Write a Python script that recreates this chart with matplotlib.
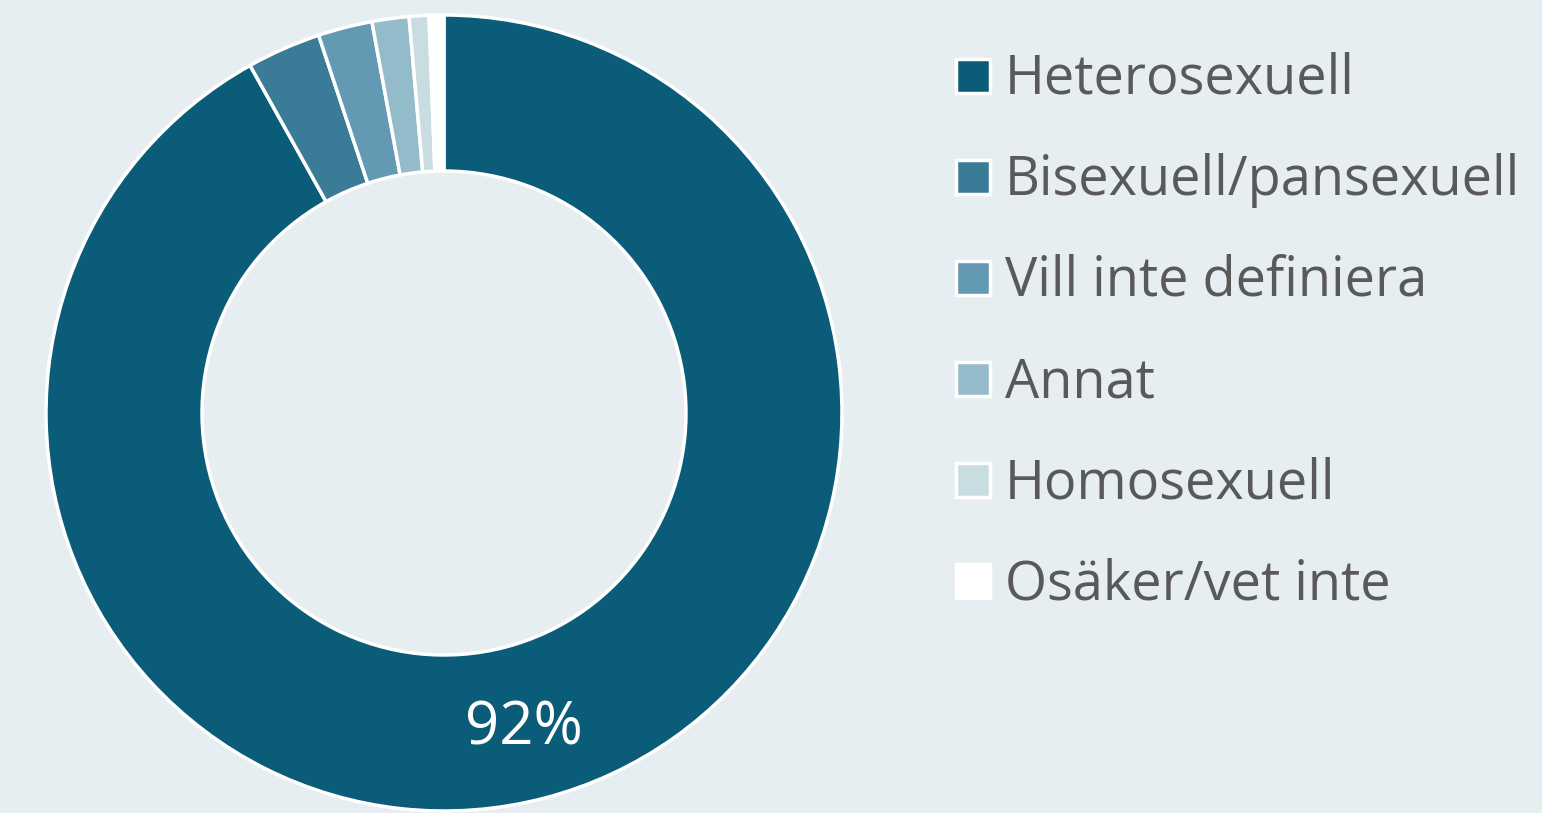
import matplotlib
matplotlib.use("Agg")
import numpy as np
import matplotlib.pyplot as plt
from matplotlib.patches import Rectangle

# data (share in percent)
labels = ["Heterosexuell", "Bisexuell/pansexuell", "Vill inte definiera",
          "Annat", "Homosexuell", "Osäker/vet inte"]
values = [91.9, 3.0, 2.2, 1.5, 0.8, 0.6]
shown_label = "92%"
colors = ["#0A5C78", "#3A7C97", "#6499B3", "#94BBC9", "#C8DCE2", "#FFFFFF"]

BG = "#E6EEF1"
TXT = "#595959"
W, H = 1542, 813
plt.rcParams['font.family'] = ['Open Sans', 'DejaVu Sans']

fig = plt.figure(figsize=(W / 100, H / 100), dpi=100, facecolor=BG)

# donut: centre (444, 413) px, outer radius 398 px
cx, cy, r = 444, 413, 398
ax = fig.add_axes([(cx - r) / W, (H - cy - r) / H, 2 * r / W, 2 * r / H])
ax.set_facecolor(BG)
wedges, _ = ax.pie(values, colors=colors, startangle=90, counterclock=False,
                   radius=1, wedgeprops=dict(width=0.392, edgecolor="white", linewidth=2.5))
ax.set_xlim(-1.0, 1.0)
ax.set_ylim(-1.0, 1.0)
ax.set_aspect("auto")
ax.axis("off")

# label on the big slice, placed at its mid angle
w0 = wedges[0]
mid = np.deg2rad((w0.theta1 + w0.theta2) / 2)
ax.text(0.82 * np.cos(mid) - 0.005, 0.82 * np.sin(mid), shown_label, color="white",
        fontsize=43, ha="center", va="center")

# legend
y0, step = 73, 101
for i, (lab, col) in enumerate(zip(labels, colors)):
    y = y0 + i * step
    fig.patches.append(Rectangle(((956) / W, (H - y - 20) / H), 34 / W, 34 / H,
                                 facecolor=col, edgecolor="white", linewidth=2.5,
                                 transform=fig.transFigure, figure=fig))
    fig.text(1005 / W, (H - y) / H, lab, color=TXT, fontsize=39,
             ha="left", va="center_baseline")

fig.savefig("out.png", dpi=100, facecolor=BG)
